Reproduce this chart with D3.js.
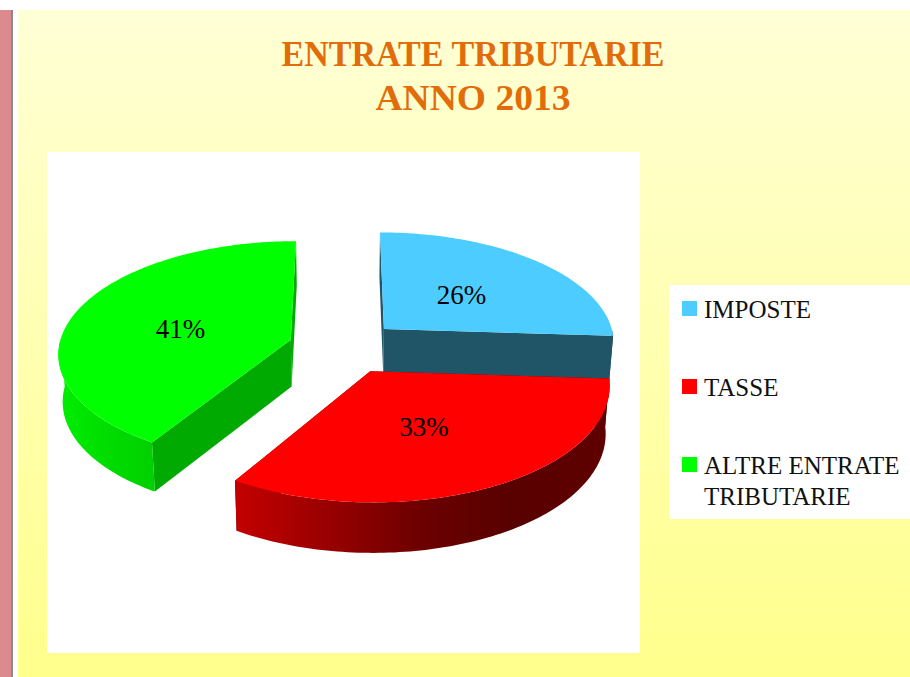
<!DOCTYPE html>
<html>
<head>
<meta charset="utf-8">
<script src="https://cdn.jsdelivr.net/npm/d3@7"></script>
<style>
  html, body { margin: 0; padding: 0; background: #fff; }
  svg { display: block; }
  text { font-family: "Liberation Serif", serif; }
</style>
</head>
<body>
<svg id="chart" width="910" height="677"></svg>
<script>
const categories = ["IMPOSTE", "TASSE", "ALTRE ENTRATE TRIBUTARIE"]
const values = [26, 32.8, 41.2]
const topColors = ["#4dcdff", "#ff0000", "#00ff00"]
const sideColors = ["#205568", "#600000", "#00aa00"]
const wallStops = [
  ["#205568", "#205568"],
  ["#c40000", "#980000", "#6c0000", "#580000", "#600000"],
  ["#00ee00", "#00dd00", "#00d000"]
]
const titleLines = ["ENTRATE TRIBUTARIE", "ANNO 2013"]
const titleWidths = [383, 195]
const labelShift = [[-1, 1], [-5, 1], [-2, 4]]

const W = 910, H = 677
const svg = d3.select("#chart")

// page background
const defs = svg.append("defs")
const bg = defs.append("linearGradient").attr("id", "bg")
  .attr("x1", 0).attr("y1", 0).attr("x2", 0).attr("y2", 1)
bg.append("stop").attr("offset", "0%").attr("stop-color", "#ffffd6")
bg.append("stop").attr("offset", "100%").attr("stop-color", "#ffff8c")

svg.append("rect").attr("x", 0).attr("y", 10).attr("width", 11).attr("height", H - 10).attr("fill", "#dd8a8e")
svg.append("rect").attr("x", 11).attr("y", 10).attr("width", 2).attr("height", H - 10).attr("fill", "#8a8a8a")
svg.append("rect").attr("x", 18).attr("y", 10).attr("width", W - 18).attr("height", H - 10).attr("fill", "url(#bg)")

// white panels behind the pie and the legend
svg.append("rect").attr("x", 47).attr("y", 152).attr("width", 593).attr("height", 501).attr("fill", "#fff")
svg.append("rect").attr("x", 669).attr("y", 285).attr("width", 241).attr("height", 234).attr("fill", "#fff")

svg.append("g").selectAll("text").data(titleLines).enter().append("text")
  .attr("x", 473)
  .attr("y", (d, i) => 66 + i * 44)
  .attr("text-anchor", "middle")
  .attr("font-size", 36)
  .attr("font-weight", "bold")
  .attr("fill", "#e36c0a")
  .attr("textLength", (d, i) => titleWidths[i])
  .attr("lengthAdjust", "spacingAndGlyphs")
  .text(d => d)

// 3D pie: d3.pie gives the angles, project() tilts them into screen space
const cx = 344, cy = 347
const rx = 232, ry = 111, persp = 0.11, depth = 47, explode = 0.24

function project(X, Y, down) {
  const s = 1 + persp * Y
  const shrink = down ? 0.985 : 1
  return [
    cx + rx * X / s * shrink,
    cy - ry * Y / s + (down ? depth / Math.sqrt(s) : 0)
  ]
}

const slices = d3.pie().sort(null)(values)

const line = d3.line()

slices.forEach((d, i) => {
  const mid = (d.startAngle + d.endAngle) / 2
  d.ox = explode * Math.sin(mid)
  d.oy = explode * Math.cos(mid)
  d.index = i
})

const rim = (d, a, rho, down) =>
  project(d.ox + rho * Math.sin(a), d.oy + rho * Math.cos(a), down)

function arcAngles(a0, a1) {
  const n = Math.max(2, Math.ceil((a1 - a0) / 0.02))
  return d3.range(n + 1).map(j => a0 + (a1 - a0) * j / n)
}

// painter's order: green at the back, then blue, then red
const order = [2, 0, 1]
const pieG = svg.append("g")

order.forEach(i => {
  const d = slices[i]
  const g = pieG.append("g")

  // flat cut faces
  ;[d.startAngle, d.endAngle].forEach(a => {
    g.append("path")
      .attr("d", line([rim(d, a, 0, false), rim(d, a, 1, false), rim(d, a, 1, true), rim(d, a, 0, true)]) + "Z")
      .attr("fill", sideColors[i])
  })

  // curved outer wall, only the part that faces the viewer
  const a0 = Math.max(d.startAngle, Math.PI / 2)
  const a1 = Math.min(d.endAngle, Math.PI * 1.5)
  if (a1 > a0) {
    const id = "wall" + i
    const grad = defs.append("linearGradient").attr("id", id)
    wallStops[i].forEach((c, j, all) => {
      grad.append("stop").attr("offset", j / (all.length - 1)).attr("stop-color", c)
    })
    const as = arcAngles(a0, a1)
    const pts = as.map(a => rim(d, a, 1, false)).concat(as.slice().reverse().map(a => rim(d, a, 1, true)))
    g.append("path").attr("d", line(pts) + "Z").attr("fill", "url(#" + id + ")")
  }

  // top face
  const topPts = [rim(d, d.startAngle, 0, false)].concat(arcAngles(d.startAngle, d.endAngle).map(a => rim(d, a, 1, false)))
  g.append("path").attr("d", line(topPts) + "Z").attr("fill", topColors[i])
})

// percent labels
svg.append("g").selectAll("text").data(slices).enter().append("text")
  .attr("x", (d, i) => rim(d, (d.startAngle + d.endAngle) / 2, 0.5, false)[0] + labelShift[i][0])
  .attr("y", (d, i) => rim(d, (d.startAngle + d.endAngle) / 2, 0.5, false)[1] + 9 + labelShift[i][1])
  .attr("text-anchor", "middle")
  .attr("font-size", 27)
  .attr("fill", "#000")
  .text(d => Math.round(d.value) + "%")

// legend
const legendRow = d3.scalePoint().domain(categories).range([309, 465])
const legend = svg.append("g").selectAll("g").data(categories).enter().append("g")
legend.append("rect")
  .attr("x", 682)
  .attr("y", d => legendRow(d) - 8)
  .attr("width", 15)
  .attr("height", 15)
  .attr("fill", (d, i) => topColors[i])

const wrapped = { "ALTRE ENTRATE TRIBUTARIE": ["ALTRE ENTRATE", "TRIBUTARIE"] }
legend.each(function (d) {
  const rows = wrapped[d] || [d]
  d3.select(this).selectAll("text").data(rows).enter().append("text")
    .attr("x", 704)
    .attr("y", (r, j) => legendRow(d) + 9 + j * 31)
    .attr("font-size", 25)
    .attr("fill", "#111")
    .text(r => r)
})
</script>
</body>
</html>
